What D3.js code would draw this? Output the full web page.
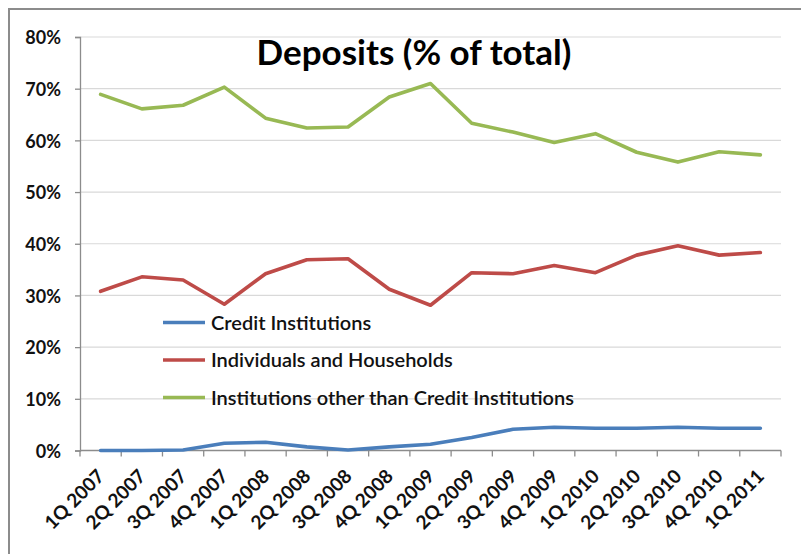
<!DOCTYPE html>
<html>
<head>
<meta charset="utf-8">
<script src="https://cdn.jsdelivr.net/npm/d3@7"></script>
<style>
  html, body { margin: 0; padding: 0; background: #fff; }
  svg { display: block; font-family: Lato, "Open Sans", sans-serif; }
</style>
</head>
<body>
<svg id="chart" width="801" height="554"></svg>
<script>
// Quarterly share of deposits by depositor type (% of total)
const quarters = ["1Q 2007","2Q 2007","3Q 2007","4Q 2007","1Q 2008","2Q 2008","3Q 2008","4Q 2008",
                  "1Q 2009","2Q 2009","3Q 2009","4Q 2009","1Q 2010","2Q 2010","3Q 2010","4Q 2010","1Q 2011"];
const creditInstitutions = [0.0, 0.0, 0.1, 1.4, 1.6, 0.7, 0.1, 0.7, 1.2, 2.5, 4.1, 4.5, 4.3, 4.3, 4.5, 4.3, 4.3];
const individualsHouseholds = [30.8, 33.6, 33.0, 28.3, 34.2, 36.9, 37.1, 31.2, 28.1, 34.4, 34.2, 35.8, 34.4, 37.8, 39.6, 37.8, 38.3];
const otherInstitutions = [68.9, 66.1, 66.8, 70.3, 64.3, 62.4, 62.6, 68.4, 71.0, 63.3, 61.6, 59.6, 61.3, 57.7, 55.8, 57.8, 57.2];
const yTicks = [0, 10, 20, 30, 40, 50, 60, 70, 80];
const seriesNames = ["Credit Institutions", "Individuals and Households", "Institutions other than Credit Institutions"];
const seriesColors = ["#4a7ebb", "#be4b48", "#98b954"];
const seriesValues = [creditInstitutions, individualsHouseholds, otherInstitutions];

const svg = d3.select("#chart");

// frame edges
svg.append("line").attr("x1", 8.5).attr("x2", 801).attr("y1", 9).attr("y2", 9)
  .attr("stroke", "#8c8c8c").attr("stroke-width", 2);
svg.append("line").attr("x1", 9).attr("x2", 9).attr("y1", 8).attr("y2", 554)
  .attr("stroke", "#8c8c8c").attr("stroke-width", 2);

const plotLeft = 80, plotRight = 781, plotTop = 37, plotBottom = 450.5;

const x = d3.scaleBand().domain(quarters).range([plotLeft, plotRight]).paddingInner(0).paddingOuter(0);
const y = d3.scaleLinear().domain([0, 80]).range([plotBottom, plotTop]);

// horizontal gridlines
svg.append("g").selectAll("line").data(yTicks.filter(t => t > 0)).join("line")
  .attr("x1", plotLeft).attr("x2", plotRight)
  .attr("y1", d => y(d)).attr("y2", d => y(d))
  .attr("stroke", "#d9d9d9").attr("stroke-width", 1.2);

// y axis
const yAxis = svg.append("g").attr("transform", `translate(${plotLeft},0)`)
  .call(d3.axisLeft(y).tickValues(yTicks).tickSize(5).tickPadding(14).tickFormat(d => d + "%"));
yAxis.select(".domain").attr("stroke", "#8c8c8c").attr("stroke-width", 1.3);
yAxis.selectAll(".tick line").attr("stroke", "#8c8c8c").attr("stroke-width", 1.3);
yAxis.selectAll(".tick text").attr("font-size", 18).attr("font-weight", 700).attr("fill", "#111")
  .attr("font-family", "Lato, sans-serif").attr("dy", "0.38em");

// x axis: ticks on category boundaries
const xAxisG = svg.append("g");
xAxisG.append("line").attr("x1", plotLeft).attr("x2", plotRight).attr("y1", plotBottom).attr("y2", plotBottom)
  .attr("stroke", "#8c8c8c").attr("stroke-width", 1.3);
const boundaries = quarters.map(q => x(q)).concat([x(quarters[quarters.length - 1]) + x.bandwidth()]);
xAxisG.selectAll("line.tk").data(boundaries).join("line").attr("class", "tk")
  .attr("x1", d => d).attr("x2", d => d).attr("y1", plotBottom).attr("y2", plotBottom + 6)
  .attr("stroke", "#8c8c8c").attr("stroke-width", 1.3);
xAxisG.selectAll("text").data(quarters).join("text")
  .attr("transform", d => `translate(${x(d) + x.bandwidth() / 2 + 5},${plotBottom + 27}) rotate(-45)`)
  .attr("text-anchor", "end")
  .attr("font-size", 19).attr("font-weight", 700).attr("fill", "#111")
  .text(d => d);

// series lines
const line = d3.line().x((d, i) => x(quarters[i]) + x.bandwidth() / 2).y(d => y(d));
svg.append("g").selectAll("path").data(seriesValues).join("path")
  .attr("d", d => line(d)).attr("fill", "none")
  .attr("stroke", (d, i) => seriesColors[i]).attr("stroke-width", 3.6)
  .attr("stroke-linejoin", "round").attr("stroke-linecap", "round");

// title
svg.append("text").attr("x", 414).attr("y", 65).attr("text-anchor", "middle")
  .attr("font-size", 35).attr("font-weight", 700).attr("fill", "#000")
  .text("Deposits (% of total)");

// legend
const legend = svg.append("g").attr("transform", "translate(163,322.5)");
const rows = legend.selectAll("g").data(seriesNames).join("g")
  .attr("transform", (d, i) => `translate(0,${i * 37.5})`);
rows.append("line").attr("x1", 0).attr("x2", 42).attr("y1", 0).attr("y2", 0)
  .attr("stroke", (d, i) => seriesColors[i]).attr("stroke-width", 3.6);
rows.append("text").attr("x", 48).attr("y", 0).attr("dy", "0.36em")
  .attr("font-size", 20).attr("font-weight", 600).attr("fill", "#111")
  .text(d => d);
</script>
</body>
</html>
